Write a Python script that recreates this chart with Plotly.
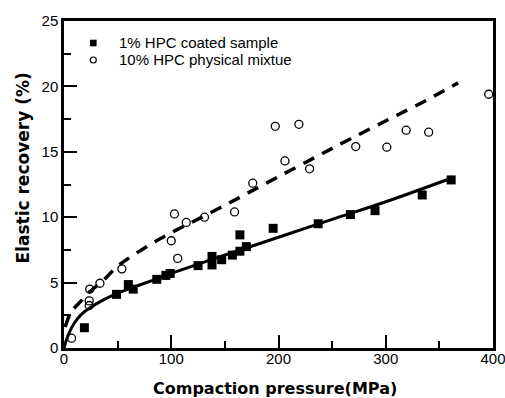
import plotly.graph_objects as go

# 1% HPC coated sample (filled squares)
coated_x = [19, 49, 60, 64.5, 86.5, 95, 99, 125, 138, 138, 147, 157, 164, 164, 170, 195, 237, 267, 290, 334, 361]
coated_y = [1.55, 4.1, 4.85, 4.5, 5.25, 5.55, 5.7, 6.3, 7.0, 6.35, 6.75, 7.1, 8.65, 7.4, 7.75, 9.15, 9.5, 10.2, 10.5, 11.7, 12.85]

# 10% HPC physical mixtue (open circles)
mix_x = [7, 24, 23.5, 23.5, 33.5, 54, 100, 103, 106, 114, 131, 159, 176, 197, 206, 219, 229, 272, 301, 319, 340, 396]
mix_y = [0.75, 4.5, 3.6, 3.25, 4.95, 6.05, 8.2, 10.25, 6.85, 9.6, 10.0, 10.4, 12.6, 16.95, 14.3, 17.1, 13.7, 15.4, 15.35, 16.65, 16.5, 19.4]

# fitted curves
fit_coated_x = [0, 2, 5, 10, 16, 24, 35, 50, 65, 80, 100, 130, 160, 200, 250, 300, 361]
fit_coated_y = [0, 0.55, 1.2, 1.95, 2.55, 3.05, 3.6, 4.2, 4.65, 5.1, 5.7, 6.55, 7.38, 8.47, 9.83, 11.18, 12.98]

fit_mix_x = [1, 4, 8, 16, 24, 37, 50, 65, 85, 105, 125, 145, 165, 200, 237, 265, 296, 330, 367.5]
fit_mix_y = [1.6, 2.3, 2.9, 3.6, 4.3, 5.2, 6.25, 7.12, 8.14, 9.03, 9.85, 10.7, 11.57, 13.1, 14.7, 15.9, 17.2, 18.6, 20.27]

legend_names = ["1% HPC coated sample", "10% HPC physical mixtue"]
x_title = "Compaction pressure(MPa)"
y_title = "Elastic recovery (%)"

# plot frame in pixels (for placing the hand-made legend and axis titles)
W, H = 505, 398
L, R, T, B = 64, 12, 21, 50
PW, PH = W - L - R, H - T - B


def px(xp):
    return (xp - L) / PW


def py(yp):
    return (H - B - yp) / PH


fig = go.Figure()
fig.add_trace(go.Scatter(x=coated_x, y=coated_y, mode="markers", name=legend_names[0],
                         showlegend=False,
                         marker=dict(symbol="square", size=9, color="black")))
fig.add_trace(go.Scatter(x=mix_x, y=mix_y, mode="markers", name=legend_names[1],
                         showlegend=False,
                         marker=dict(symbol="circle-open", size=8, color="black",
                                     line=dict(width=1.3, color="black"))))
fig.add_trace(go.Scatter(x=fit_coated_x, y=fit_coated_y, mode="lines", showlegend=False,
                         line=dict(color="black", width=3, shape="spline")))
fig.add_trace(go.Scatter(x=fit_mix_x, y=fit_mix_y, mode="lines", showlegend=False,
                         line=dict(color="black", width=3.5, shape="spline", dash="12px,9px")))

axis_common = dict(showline=True, linecolor="black", linewidth=2.5, mirror=True,
                   ticks="inside", ticklen=13, tickwidth=2, tickcolor="black",
                   showgrid=False, zeroline=False, automargin=False,
                   ticklabeloverflow="allow",
                   tickfont=dict(family="Liberation Sans, Arial", size=15, color="black"))

fig.update_xaxes(range=[0, 400], dtick=100, tick0=0, ticklabelstandoff=-5,
                 minor=dict(ticks="inside", ticklen=7, tickwidth=2, tickcolor="black", dtick=50),
                 **axis_common)
fig.update_yaxes(range=[0, 25], dtick=5, tick0=0,
                 minor=dict(ticks="inside", ticklen=7, tickwidth=2, tickcolor="black", dtick=2.5),
                 **axis_common)

legend_font = dict(family="Liberation Sans, Arial", size=15, color="black")
title_font = dict(family="DejaVu Sans", size=16, color="black", weight="bold")
shapes = [
    dict(type="rect", xref="paper", yref="paper",
         x0=px(90.0), x1=px(96.6), y0=py(46.3), y1=py(39.7),
         fillcolor="black", line=dict(width=0)),
    dict(type="circle", xref="paper", yref="paper",
         x0=px(90.3), x1=px(96.3), y0=py(63.0), y1=py(57.0),
         fillcolor="rgba(0,0,0,0)", line=dict(width=1.2, color="black")),
]
annotations = [
    dict(text=legend_names[0], xref="paper", yref="paper", x=px(117), y=py(43),
         xanchor="left", yanchor="middle", showarrow=False, font=legend_font),
    dict(text=legend_names[1], xref="paper", yref="paper", x=px(117), y=py(60),
         xanchor="left", yanchor="middle", showarrow=False, font=legend_font),
    dict(text=y_title, xref="paper", yref="paper", x=px(22.5), y=py(168),
         xanchor="center", yanchor="middle", textangle=-90, showarrow=False,
         font=dict(title_font, size=17)),
    dict(text=x_title, xref="paper", yref="paper", x=px(275), y=py(388),
         xanchor="center", yanchor="middle", showarrow=False, font=title_font),
]

fig.update_layout(
    width=W, height=H,
    margin=dict(l=L, r=R, t=T, b=B, pad=0),
    paper_bgcolor="white", plot_bgcolor="white",
    showlegend=False,
    shapes=shapes,
    annotations=annotations,
)

fig.write_html("out.html")
